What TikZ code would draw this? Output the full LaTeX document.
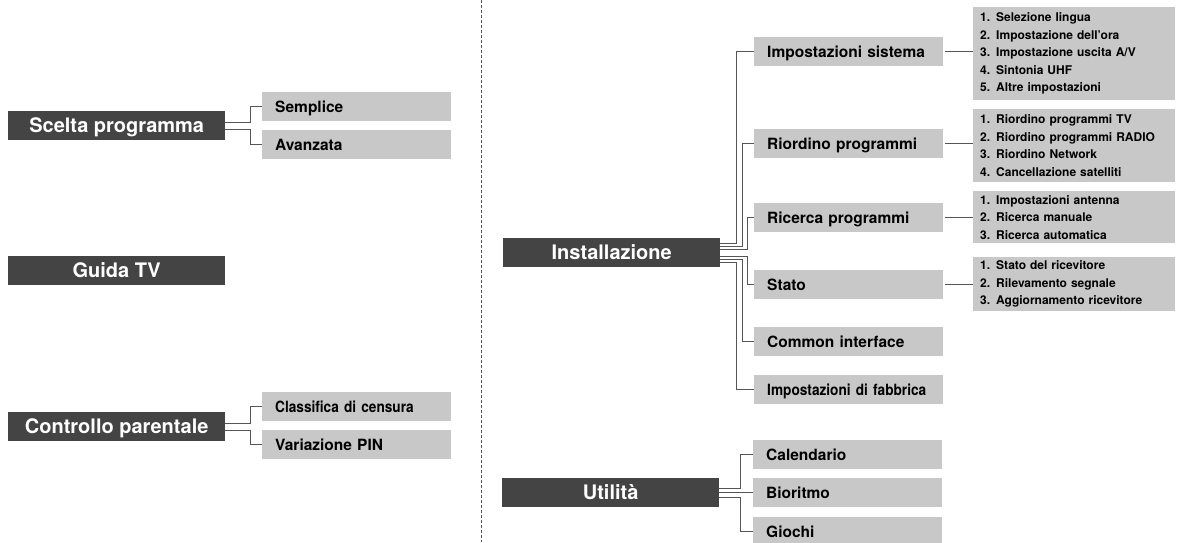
\documentclass[tikz,border=0pt]{standalone}
\usepackage{fontspec}
\setmainfont{TeX Gyre Heros}
\newfontfamily\narrowfont[FakeStretch=0.88]{TeX Gyre Heros}
\usetikzlibrary{positioning,calc}
\definecolor{boxdark}{HTML}{444444}
\definecolor{boxlight}{HTML}{C8C8C8}
\definecolor{linkgray}{HTML}{555555}
\tikzset{
  menu/.style={anchor=north west, fill=boxdark, text=white, font=\bfseries\fontsize{20}{24}\selectfont,
    minimum width=217pt, minimum height=29pt, inner sep=0pt, text height=14.4pt, text depth=0pt},
  item/.style={anchor=north west, fill=boxlight, font=\bfseries\fontsize{15.5}{18}\selectfont,
    minimum height=29pt, inner xsep=13pt, inner ysep=0pt, text width=163pt, align=left,
    text height=11.2pt, text depth=0pt},
  sublist/.style={anchor=north west, fill=boxlight, font=\bfseries\fontsize{12}{17.5}\selectfont,
    inner xsep=7pt, inner ysep=0pt, text width=188pt, align=left},
  link/.style={draw=linkgray, line width=1pt},
}
\begin{document}
\begin{tikzpicture}[x=1pt,y=-1pt]
            \useasboundingbox (0,0) rectangle (1177,542);

            % left column
            \node[menu] (scelta) at (8,111) {Scelta programma};
            \node[item] (semplice) at (262,92) {Semplice};
            \node[item] (avanzata) at (262,130) {Avanzata};
            \node[menu] (guida) at (8,256) {Guida TV};
            \node[menu] (controllo) at (8,412) {Controllo parentale};
            \node[item, font=\narrowfont\bfseries\fontsize{15.5}{18}\selectfont] (classifica) at (262,392) {Classifica di censura};
            \node[item] (pin) at (262,430) {Variazione PIN};

            \draw[link] ([yshift=3.5pt]scelta.east) -| ([xshift=-12pt]semplice.west) -- (semplice.west);
            \draw[link] ([yshift=-3.5pt]scelta.east) -| ([xshift=-12pt]avanzata.west) -- (avanzata.west);
            \draw[link] ([yshift=3.5pt]controllo.east) -| ([xshift=-12pt]classifica.west) -- (classifica.west);
            \draw[link] ([yshift=-3.5pt]controllo.east) -| ([xshift=-12pt]pin.west) -- (pin.west);

            \draw[linkgray, dash pattern=on 3pt off 2pt, line width=0.8pt] (481,0) -- (481,542);

            % right column
            \node[menu] (install) at (503,238) {Installazione};
            \node[item] (sistema) at (754,37) {Impostazioni sistema};
            \node[item] (riordino) at (754,129) {Riordino programmi};
            \node[item] (ricerca) at (754,203) {Ricerca programmi};
            \node[item] (stato) at (754,270) {Stato};
            \node[item] (common) at (754,327) {Common interface};
            \node[item, font=\narrowfont\bfseries\fontsize{15.5}{18}\selectfont] (fabbrica) at (754,375) {Impostazioni di fabbrica};

            \node[sublist, minimum height=93pt] (sistema-list) at (973,7) {1. Selezione lingua\\2. Impostazione dell'ora\\3. Impostazione uscita A/V\\4. Sintonia UHF\\5. Altre impostazioni};
            \node[sublist, minimum height=73pt] (riordino-list) at (973,109) {1. Riordino programmi TV\\2. Riordino programmi RADIO\\3. Riordino Network\\4. Cancellazione satelliti};
            \node[sublist, minimum height=52pt] (ricerca-list) at (973,191) {1. Impostazioni antenna\\2. Ricerca manuale\\3. Ricerca automatica};
            \node[sublist, minimum height=54pt] (stato-list) at (973,257) {1. Stato del ricevitore\\2. Rilevamento segnale\\3. Aggiornamento ricevitore};

            \foreach \child/\dy/\dx in {sistema/9.5/-18, riordino/6.5/-12, ricerca/3.5/-7, stato/-3.5/-7, common/-6.5/-12, fabbrica/-9.5/-18}
                \draw[link] ([yshift=\dy pt]install.east) -| ([xshift=\dx pt]\child.west) -- (\child.west);
            \foreach \child in {sistema, riordino, ricerca, stato}
                \draw[link] ([xshift=2pt]\child.east) -- (\child.east -| \child-list.west);

            \node[menu] (utilita) at (502,478) {Utilità};
            \node[item] (calendario) at (753,440) {Calendario};
            \node[item] (bioritmo) at (753,478) {Bioritmo};
            \node[item] (giochi) at (753,517) {Giochi};

            \foreach \child/\dy in {calendario/4.5, bioritmo/0, giochi/-4.5}
                \draw[link] ([yshift=\dy pt]utilita.east) -| ([xshift=-13pt]\child.west) -- (\child.west);
        \end{tikzpicture}
\end{document}
